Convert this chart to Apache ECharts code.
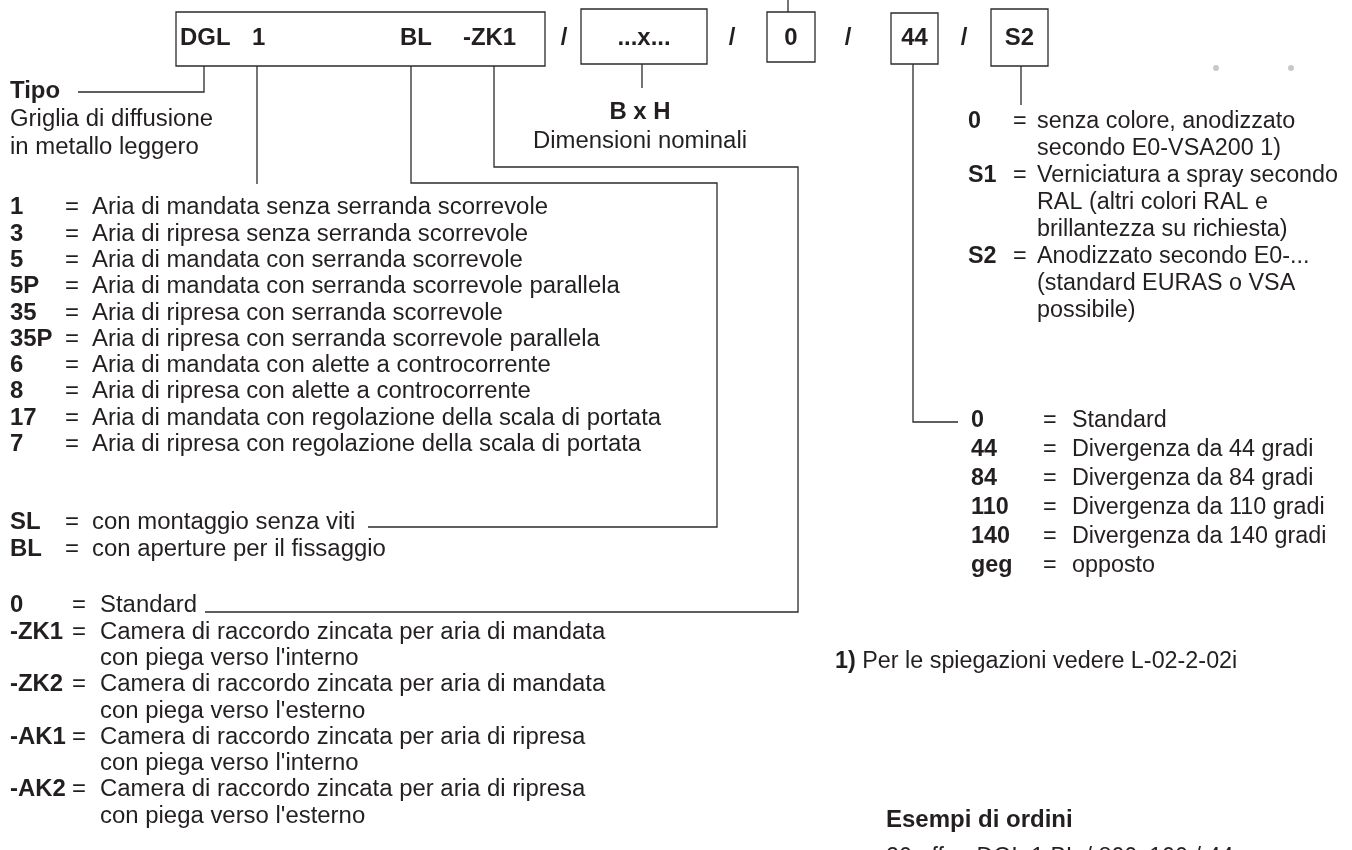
<!DOCTYPE html>
<html>
<head>
<meta charset="utf-8">
<script src="https://cdn.jsdelivr.net/npm/echarts@6/dist/echarts.min.js"></script>
<style>
html,body{margin:0;padding:0;background:#fff;}
#c{width:1352px;height:850px;}
</style>
</head>
<body>
<div id="c"></div>
<script>
// ---- content ----
const typeCodeParts = ['DGL', '1', 'BL', '-ZK1'];
const otherBoxes = ['...x...', '0', '44', 'S2'];
const typeTitle = 'Tipo';
const typeDesc = ['Griglia di diffusione', 'in metallo leggero'];
const sizeTitle = 'B x H';
const sizeDesc = 'Dimensioni nominali';

const airCodes = ['1', '3', '5', '5P', '35', '35P', '6', '8', '17', '7'];
const airDesc = [
  'Aria di mandata senza serranda scorrevole',
  'Aria di ripresa senza serranda scorrevole',
  'Aria di mandata con serranda scorrevole',
  'Aria di mandata con serranda scorrevole parallela',
  'Aria di ripresa con serranda scorrevole',
  'Aria di ripresa con serranda scorrevole parallela',
  'Aria di mandata con alette a controcorrente',
  'Aria di ripresa con alette a controcorrente',
  'Aria di mandata con regolazione della scala di portata',
  'Aria di ripresa con regolazione della scala di portata'
];
const mountCodes = ['SL', 'BL'];
const mountDesc = ['con montaggio senza viti', 'con aperture per il fissaggio'];
const plenumCodes = ['0', '-ZK1', '-ZK2', '-AK1', '-AK2'];
const plenumDesc = [
  ['Standard'],
  ['Camera di raccordo zincata per aria di mandata', "con piega verso l'interno"],
  ['Camera di raccordo zincata per aria di mandata', "con piega verso l'esterno"],
  ['Camera di raccordo zincata per aria di ripresa', "con piega verso l'interno"],
  ['Camera di raccordo zincata per aria di ripresa', "con piega verso l'esterno"]
];
const colourCodes = ['0', 'S1', 'S2'];
const colourDesc = [
  ['senza colore, anodizzato', 'secondo E0-VSA200 1)'],
  ['Verniciatura a spray secondo', 'RAL (altri colori RAL e', 'brillantezza su richiesta)'],
  ['Anodizzato secondo E0-...', '(standard EURAS o VSA', 'possibile)']
];
const divCodes = ['0', '44', '84', '110', '140', 'geg'];
const divDesc = ['Standard', 'Divergenza da 44 gradi', 'Divergenza da 84 gradi',
  'Divergenza da 110 gradi', 'Divergenza da 140 gradi', 'opposto'];
const footnoteMark = '1)';
const footnoteText = 'Per le spiegazioni vedere L-02-2-02i';
const exampleTitle = 'Esempi di ordini';
const exampleLine = '20 offen DGL 1 BL / 800x100 / 44';

// ---- drawing ----
const FONT = "'Liberation Sans', Arial, Helvetica, sans-serif";
const INK = '#231f20';
const LINE = '#2b2b2b';
const FS = 23;
const els = [];

function txt(x, y, s, opt) {
  opt = opt || {};
  const el = {
    type: 'text', x: x, y: y, silent: true,
    scaleX: opt.sx || 1.04,
    style: {
      text: s, fill: INK,
      font: (opt.bold ? 'bold ' : '') + (opt.size || FS) + 'px ' + FONT,
      textAlign: opt.align || 'left', textVerticalAlign: 'middle'
    }
  };
  if (opt.rich) el.style.rich = opt.rich;
  els.push(el);
}
function poly(pts) {
  els.push({
    type: 'polyline', silent: true,
    shape: { points: pts },
    style: { stroke: LINE, lineWidth: 1.3, fill: null }
  });
}
function rect(x, y, w, h) {
  els.push({
    type: 'rect', silent: true,
    shape: { x: x, y: y, width: w, height: h },
    style: { stroke: LINE, lineWidth: 1.3, fill: '#fff' }
  });
}

// top boxes
rect(176, 12, 369, 54);
const partX = [180, 252, 400, 463];
typeCodeParts.forEach((p, i) => txt(partX[i], 39, p, { bold: true }));
const boxes = [[581, 9, 126, 55], [767, 12, 48, 50], [891, 13, 47, 51], [991, 9, 57, 57]];
boxes.forEach((b, i) => {
  rect(b[0], b[1], b[2], b[3]);
  txt(b[0] + b[2] / 2, 39, otherBoxes[i], { bold: true, align: 'center' });
});
[564, 732, 848, 964].forEach(x => txt(x, 39, '/', { bold: true, align: 'center' }));

// connectors
poly([[78, 92], [204, 92], [204, 66]]);
poly([[257, 66], [257, 184]]);
poly([[411, 66], [411, 183], [717, 183], [717, 527], [368, 527]]);
poly([[494, 66], [494, 167], [798, 167], [798, 612], [205, 612]]);
poly([[642, 64], [642, 88]]);
poly([[788, 0], [788, 12]]);
poly([[913, 64], [913, 422], [958, 422]]);
poly([[1021, 66], [1021, 105]]);

// grey dots
[1216, 1291].forEach(x => els.push({
  type: 'circle', silent: true, shape: { cx: x, cy: 68, r: 3 }, style: { fill: '#c8c8c8' }
}));

// type
txt(10, 92, typeTitle, { bold: true });
typeDesc.forEach((s, i) => txt(10, 120 + i * 28, s));

// size
txt(640, 113, sizeTitle, { bold: true, align: 'center' });
txt(640, 142, sizeDesc, { align: 'center' });

// air function list
const LH = 26.3;
airCodes.forEach((c, i) => {
  const y = 208 + i * LH;
  txt(10, y, c, { bold: true });
  txt(65, y, '=');
  txt(92, y, airDesc[i]);
});
mountCodes.forEach((c, i) => {
  const y = 523 + i * LH;
  txt(10, y, c, { bold: true });
  txt(65, y, '=');
  txt(92, y, mountDesc[i]);
});
let row = 0;
plenumCodes.forEach((c, i) => {
  const y0 = 606 + row * LH;
  txt(10, y0, c, { bold: true });
  txt(72, y0, '=');
  plenumDesc[i].forEach((s, j) => { txt(100, 606 + (row + j) * LH, s); });
  row += plenumDesc[i].length;
});

// colour list
const RSX = 1.015;
row = 0;
colourCodes.forEach((c, i) => {
  const y0 = 122 + row * 27;
  txt(968, y0, c, { bold: true, sx: RSX });
  txt(1013, y0, '=', { sx: RSX });
  colourDesc[i].forEach((s, j) => txt(1037, 122 + (row + j) * 27, s, { sx: RSX }));
  row += colourDesc[i].length;
});

// divergence list
divCodes.forEach((c, i) => {
  const y = 421 + i * 29;
  txt(971, y, c, { bold: true, sx: RSX });
  txt(1043, y, '=', { sx: RSX });
  txt(1072, y, divDesc[i], { sx: RSX });
});

// footnote
txt(835, 662, '{b|' + footnoteMark + '} ' + footnoteText, {
  sx: RSX,
  rich: { b: { fontWeight: 'bold', fontSize: FS, fontFamily: FONT, fill: INK } }
});

// examples
txt(886, 820, exampleTitle, { bold: true, size: 24, sx: 1.0 });
txt(886, 858, exampleLine, { sx: RSX });

const chart = echarts.init(document.getElementById('c'), null, { renderer: 'canvas' });
chart.setOption({ animation: false, backgroundColor: '#fff', graphic: { elements: els } });
</script>
</body>
</html>
